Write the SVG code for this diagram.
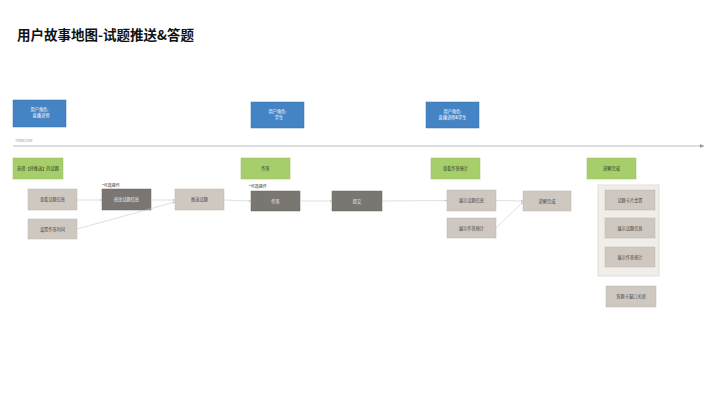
<svg xmlns="http://www.w3.org/2000/svg" width="720" height="405" viewBox="0 0 720 405">
<style>
text{font-family:"Noto Sans CJK SC","Liberation Sans",sans-serif;}
.title{font-size:13.5px;font-weight:bold;fill:#111;}
.role{fill:#4483C4;stroke:#3A73AF;stroke-width:0.5;}
.rt{font-size:4.2px;fill:#fff;text-anchor:middle;}
.act{fill:#A6CE6B;stroke:#98BF5E;stroke-width:0.5;}
.at{font-size:4.2px;fill:#2a3a1a;text-anchor:middle;}
.lb{fill:#CEC8C0;stroke:#BDB7AF;stroke-width:0.5;}
.lt{font-size:4.2px;fill:#444;text-anchor:middle;}
.db{fill:#7A7773;stroke:#6D6A66;stroke-width:0.5;}
.dt{font-size:4.2px;fill:#eee;text-anchor:middle;}
.note{font-size:4px;fill:#333;}
.panel{fill:#F1EEE9;stroke:#DDD8D0;stroke-width:0.8;}
.c{stroke:#C9C9C9;stroke-width:0.6;fill:none;marker-end:url(#ah);}
</style>
<defs>
<marker id="ah" viewBox="0 0 6 6" refX="6" refY="3" markerWidth="4" markerHeight="4" orient="auto"><path d="M0,0 L6,3 L0,6 z" fill="#BDBDBD"/></marker>
<marker id="ta" viewBox="0 0 6 6" refX="6" refY="3" markerWidth="5" markerHeight="5" orient="auto"><path d="M0,0 L6,3 L0,6 z" fill="#9A9AA2"/></marker>
</defs>
<rect width="720" height="405" fill="#fff"/>
<text class="title" x="17" y="40">用户故事地图-试题推送&amp;答题</text>

<g id="timeline">
<line x1="13" y1="146" x2="704" y2="146" stroke="#A8A8B0" stroke-width="0.8" marker-end="url(#ta)"/>
<text x="15" y="142" font-size="4px" fill="#999">TimeLine</text>
</g>

<g id="role1"><rect class="role" x="13" y="100" width="53" height="27"/><text class="rt" x="39.5" y="111">用户角色:</text><text class="rt" x="41" y="117">直播讲师</text></g>
<g id="role2"><rect class="role" x="251" y="102" width="53" height="26"/><text class="rt" x="277.5" y="113">用户角色:</text><text class="rt" x="279" y="119">学生</text></g>
<g id="role3"><rect class="role" x="426" y="102" width="53" height="26"/><text class="rt" x="452.5" y="113">用户角色:</text><text class="rt" x="452.5" y="119">直播讲师&amp;学生</text></g>

<g id="act1"><rect class="act" x="13" y="158" width="50" height="21"/><text class="at" x="38" y="170">选择【待推送】的试题</text></g>
<g id="act2"><rect class="act" x="241" y="158" width="49" height="21"/><text class="at" x="265.5" y="170">作答</text></g>
<g id="act3"><rect class="act" x="431" y="158" width="49" height="21"/><text class="at" x="455.5" y="170">查看作答统计</text></g>
<g id="act4"><rect class="act" x="587" y="158" width="49" height="21"/><text class="at" x="611.5" y="170">讲解完成</text></g>

<g id="n-view"><rect class="lb" x="28" y="189" width="49" height="21"/><text class="lt" x="52.5" y="201">查看试题信息</text></g>
<g id="n-time"><rect class="lb" x="28" y="219" width="49" height="20"/><text class="lt" x="52.5" y="230.5">设置作答时间</text></g>
<g id="n-edit"><text class="note" x="102" y="187">*可选操作</text><rect class="db" x="102" y="189" width="49" height="21"/><text class="dt" x="126.5" y="201">修改试题信息</text></g>
<g id="n-push"><rect class="lb" x="175" y="189" width="49" height="21"/><text class="lt" x="199.5" y="201">推送试题</text></g>
<g id="n-answer"><text class="note" x="249" y="188">*可选操作</text><rect class="db" x="251" y="191" width="49" height="20"/><text class="dt" x="275.5" y="202.5">作答</text></g>
<g id="n-submit"><rect class="db" x="332" y="191" width="50" height="20"/><text class="dt" x="357" y="202.5">提交</text></g>
<g id="n-showq"><rect class="lb" x="447" y="190" width="49" height="21"/><text class="lt" x="471.5" y="202">展示试题信息</text></g>
<g id="n-shows"><rect class="lb" x="447" y="218" width="49" height="20"/><text class="lt" x="471.5" y="229.5">展示作答统计</text></g>
<g id="n-done"><rect class="lb" x="523" y="191" width="48" height="20"/><text class="lt" x="547" y="202.5">讲解完成</text></g>

<g id="panel">
<rect class="panel" x="598" y="185" width="61" height="91"/>
<g id="n-reset"><rect class="lb" x="605" y="190" width="50" height="20"/><text class="lt" x="630" y="201.5">试题卡片重置</text></g>
<g id="n-showq2"><rect class="lb" x="605" y="218" width="50" height="20"/><text class="lt" x="630" y="229.5">展示试题信息</text></g>
<g id="n-shows2"><rect class="lb" x="605" y="247" width="50" height="20"/><text class="lt" x="630" y="258.5">展示作答统计</text></g>
</g>
<g id="n-close"><rect class="lb" x="606" y="286" width="50" height="21"/><text class="lt" x="631" y="298">答题卡窗口关闭</text></g>

<g id="connectors">
<line class="c" x1="77" y1="200" x2="102" y2="200"/>
<line class="c" x1="151" y1="200" x2="175" y2="200"/>
<line class="c" x1="77" y1="229" x2="175" y2="202"/>
<line class="c" x1="224" y1="200" x2="251" y2="201"/>
<line class="c" x1="300" y1="201" x2="332" y2="201"/>
<line class="c" x1="382" y1="201" x2="447" y2="200.5"/>
<line class="c" x1="496" y1="200.5" x2="523" y2="201"/>
<line class="c" x1="496" y1="228" x2="523" y2="202"/>
</g>
</svg>
